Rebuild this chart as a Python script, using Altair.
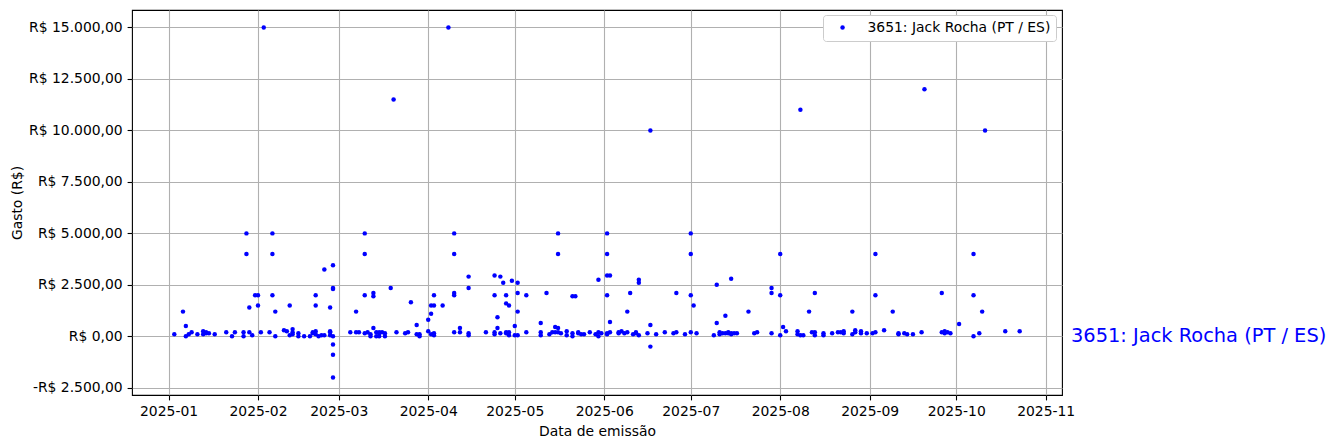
import altair as alt
import pandas as pd

SERIES = "3651: Jack Rocha (PT / ES)"

dates = [
    # Jan
    "2025-01-03", "2025-01-06", "2025-01-07", "2025-01-07", "2025-01-08", "2025-01-09", "2025-01-11",
    "2025-01-13", "2025-01-13", "2025-01-14", "2025-01-14", "2025-01-15", "2025-01-17", "2025-01-21",
    "2025-01-23", "2025-01-24", "2025-01-27", "2025-01-27", "2025-01-28", "2025-01-28", "2025-01-29",
    "2025-01-29", "2025-01-30", "2025-01-31",
    # Feb
    "2025-02-01", "2025-02-01", "2025-02-02", "2025-02-03", "2025-02-05", "2025-02-06", "2025-02-06",
    "2025-02-06", "2025-02-07", "2025-02-07", "2025-02-10", "2025-02-11", "2025-02-12", "2025-02-12",
    "2025-02-13", "2025-02-13", "2025-02-13", "2025-02-15", "2025-02-15", "2025-02-17", "2025-02-19",
    "2025-02-20", "2025-02-21", "2025-02-20", "2025-02-21", "2025-02-21", "2025-02-21", "2025-02-22",
    "2025-02-23", "2025-02-24", "2025-02-26", "2025-02-24", "2025-02-26", "2025-02-26", "2025-02-26",
    "2025-02-27", "2025-02-27", "2025-02-27", "2025-02-27", "2025-02-27", "2025-02-27", "2025-02-27",
    # Mar
    "2025-03-05", "2025-03-07", "2025-03-07", "2025-03-08", "2025-03-10", "2025-03-10", "2025-03-10",
    "2025-03-10", "2025-03-11", "2025-03-12", "2025-03-12", "2025-03-13", "2025-03-13", "2025-03-13",
    "2025-03-14", "2025-03-14", "2025-03-15", "2025-03-15", "2025-03-15", "2025-03-16", "2025-03-17",
    "2025-03-17", "2025-03-19", "2025-03-20", "2025-03-21", "2025-03-24", "2025-03-25", "2025-03-26",
    "2025-03-28", "2025-03-28", "2025-03-29", "2025-03-29",
    # Apr
    "2025-04-01", "2025-04-01", "2025-04-02", "2025-04-02", "2025-04-03", "2025-04-03", "2025-04-02",
    "2025-04-03", "2025-04-03", "2025-04-06", "2025-04-08", "2025-04-10", "2025-04-10", "2025-04-10",
    "2025-04-10", "2025-04-10", "2025-04-12", "2025-04-12", "2025-04-15", "2025-04-15", "2025-04-15",
    "2025-04-15", "2025-04-21", "2025-04-24", "2025-04-24", "2025-04-24", "2025-04-24", "2025-04-25",
    "2025-04-25", "2025-04-26", "2025-04-26", "2025-04-27", "2025-04-28", "2025-04-28", "2025-04-28",
    "2025-04-28", "2025-04-29", "2025-04-29", "2025-04-29", "2025-04-30",
    # May
    "2025-05-01", "2025-05-01", "2025-05-02", "2025-05-02", "2025-05-02", "2025-05-02", "2025-05-05",
    "2025-05-05", "2025-05-10", "2025-05-10", "2025-05-10", "2025-05-12", "2025-05-13", "2025-05-14",
    "2025-05-15", "2025-05-16", "2025-05-16", "2025-05-16", "2025-05-15", "2025-05-16", "2025-05-17",
    "2025-05-19", "2025-05-19", "2025-05-21", "2025-05-21", "2025-05-21", "2025-05-22", "2025-05-23",
    "2025-05-23", "2025-05-24", "2025-05-25", "2025-05-27", "2025-05-29", "2025-05-30", "2025-05-30",
    "2025-05-31", "2025-05-30",
    # Jun
    "2025-06-02", "2025-06-02", "2025-06-02", "2025-06-02", "2025-06-02", "2025-06-03", "2025-06-02",
    "2025-06-03", "2025-06-03", "2025-06-06", "2025-06-06", "2025-06-07", "2025-06-08", "2025-06-09",
    "2025-06-10", "2025-06-09", "2025-06-11", "2025-06-12", "2025-06-12", "2025-06-13", "2025-06-13",
    "2025-06-13", "2025-06-16", "2025-06-17", "2025-06-17", "2025-06-17", "2025-06-19", "2025-06-22",
    "2025-06-26", "2025-06-26", "2025-06-25", "2025-06-29",
    # Jul
    "2025-07-01", "2025-07-01", "2025-07-01", "2025-07-01", "2025-07-03", "2025-07-02", "2025-07-09",
    "2025-07-10", "2025-07-10", "2025-07-11", "2025-07-11", "2025-07-12", "2025-07-13", "2025-07-13",
    "2025-07-14", "2025-07-14", "2025-07-15", "2025-07-15", "2025-07-15", "2025-07-16", "2025-07-17",
    "2025-07-21", "2025-07-23", "2025-07-24", "2025-07-29", "2025-07-29", "2025-07-29",
    # Aug
    "2025-08-01", "2025-08-01", "2025-08-01", "2025-08-02", "2025-08-03", "2025-08-07", "2025-08-07",
    "2025-08-08", "2025-08-09", "2025-08-08", "2025-08-11", "2025-08-13", "2025-08-12", "2025-08-13",
    "2025-08-13", "2025-08-16", "2025-08-16", "2025-08-19", "2025-08-21", "2025-08-22", "2025-08-23",
    "2025-08-23", "2025-08-26", "2025-08-26", "2025-08-27", "2025-08-27", "2025-08-29", "2025-08-29",
    "2025-08-31",
    # Sep
    "2025-09-03", "2025-09-03", "2025-09-02", "2025-09-03", "2025-09-06", "2025-09-09", "2025-09-11",
    "2025-09-11", "2025-09-13", "2025-09-14", "2025-09-16", "2025-09-19", "2025-09-20", "2025-09-26",
    "2025-09-26", "2025-09-27", "2025-09-27", "2025-09-28", "2025-09-29",
    # Oct
    "2025-10-02", "2025-10-07", "2025-10-07", "2025-10-07", "2025-10-09", "2025-10-10", "2025-10-11",
    "2025-10-18", "2025-10-23",
]

values = [
    # Jan
    100, 1200, 500, 0, 100, 200, 100,
    250, 100, 200, 150, 150, 100, 200,
    0, 200, 0, 200, 5000, 4000, 1400,
    200, 50, 2000,
    # Feb
    2000, 1500, 200, 15000, 200, 5000, 4000,
    2000, 1200, 0, 300, 250, 1500, 50,
    350, 200, 100, 150, 0, 0, 0,
    200, 250, 150, 100, 2000, 1500, 0,
    50, 50, 50, 3250, 1400, 200, 250,
    3450, 2350, 2300, 0, -400, -900, -2000,
    # Mar
    200, 200, 1200, 200, 5000, 4000, 2000,
    150, 200, 100, 0, 400, 2100, 1950,
    200, 0, 150, 0, 200, 200, 150,
    0, 2350, 11500, 200, 150, 200, 1650,
    550, 100, 100, 0,
    # Apr
    800, 250, 1100, 1500, 1500, 2000, 100,
    50, 150, 1500, 15000, 5000, 4000, 2100,
    2000, 200, 400, 200, 2900, 2350, 150,
    50, 200, 2950, 2000, 100, 200, 930,
    400, 150, 2900, 2600, 2000, 1600, 200,
    150, 1500, 200, 50, 2700,
    # May
    500, 50, 2600, 2100, 1200, 50, 2000,
    200, 650, 50, 200, 2100, 100, 200,
    450, 400, 5000, 4000, 200, 200, 150,
    250, 50, 150, 0, 1950, 1950, 200,
    150, 100, 100, 200, 100, 200, 0,
    150, 2750,
    # Jun
    5000, 4000, 2000, 100, 150, 200, 2950,
    2950, 700, 200, 150, 250, 150, 1200,
    2100, 200, 100, 150, 200, 2750, 2600,
    50, 150, 10000, 550, -500, 100, 200,
    2100, 200, 150, 100,
    # Jul
    5000, 4000, 2000, 200, 150, 1500, 50,
    2500, 650, 200, 100, 150, 150, 1000,
    150, 200, 100, 2800, 150, 150, 150,
    1200, 150, 200, 2100, 2350, 150,
    # Aug
    4000, 2000, 50, 450, 250, 250, 100,
    50, 50, 11000, 1200, 2100, 200, 200,
    50, 50, 150, 150, 200, 200, 250,
    150, 1200, 100, 200, 300, 250, 150,
    150,
    # Sep
    4000, 2000, 150, 200, 300, 1200, 150,
    100, 150, 100, 100, 200, 12000, 2100,
    200, 250, 150, 200, 150,
    # Oct
    600, 4000, 2000, 0, 150, 1200, 10000,
    250, 250,
]

y_ticks = [-2500, 0, 2500, 5000, 7500, 10000, 12500, 15000]
x_tick_months = [(2025, m) for m in range(1, 12)]

df = pd.DataFrame({"date": dates, "gasto": values, "serie": SERIES})
label_df = pd.DataFrame({"gasto": [0], "texto": [SERIES]})

FONT = "DejaVu Sans"
W, H = 930, 385

x_ticks = [alt.DateTime(year=y, month=m, date=1, utc=True) for y, m in x_tick_months]

y_label_expr = (
    "(datum.value < 0 ? '-' : '') + 'R$ ' + "
    "replace(replace(replace(format(abs(datum.value), ',.2f'), ',', '_'), '.', ','), '_', '.')"
)
x_label_expr = "utcFormat(datum.value, '%Y-%m')"

x_enc = alt.X(
    "date:T",
    title="Data de emissão",
    scale=alt.Scale(
        type="utc",
        domain=[
            alt.DateTime(year=2024, month=12, date=19, hours=8, utc=True),
            alt.DateTime(year=2025, month=11, date=6, hours=16, utc=True),
        ],
        nice=False,
    ),
    axis=alt.Axis(values=x_ticks, labelExpr=x_label_expr, titlePadding=6),
)

y_enc = alt.Y(
    "gasto:Q",
    title="Gasto (R$)",
    scale=alt.Scale(domain=[-2850, 15850], nice=False, zero=False),
    axis=alt.Axis(values=y_ticks, labelExpr=y_label_expr, titlePadding=4),
)

points = alt.Chart(df).mark_point(filled=True, size=20, opacity=1).encode(
    x=x_enc,
    y=y_enc,
    color=alt.Color(
        "serie:N",
        scale=alt.Scale(range=["blue"]),
        legend=alt.Legend(
            title=None,
            orient="none",
            legendX=691,
            legendY=5,
            padding=5.6,
            strokeColor="#cccccc",
            fillColor="white",
            cornerRadius=3,
            labelFont=FONT,
            labelFontSize=13.9,
            labelColor="black",
            labelLimit=400,
            symbolType="circle",
            symbolSize=20,
            symbolOffset=7,
            labelOffset=18,
            zindex=2,
        ),
    ),
)

text = alt.Chart(label_df).mark_text(
    align="left", baseline="middle", fontSize=19.4, color="blue", font=FONT
).encode(
    x=alt.value(W + 9),
    y=y_enc,
    text="texto:N",
)

chart = (
    alt.layer(points, text)
    .properties(
        width=W,
        height=H,
        padding={"left": 124, "top": 2, "right": 266, "bottom": 50},
        autosize=alt.AutoSizeParams(type="none"),
    )
    .configure_view(stroke="black", strokeWidth=1.1)
    .configure_axis(
        labelFont=FONT,
        titleFont=FONT,
        labelFontSize=13.9,
        titleFontSize=13.9,
        labelColor="black",
        titleColor="black",
        titleFontWeight="normal",
        gridColor="#b0b0b0",
        gridWidth=1.1,
        tickColor="black",
        tickSize=4.9,
        tickWidth=1.1,
        domain=False,
        labelPadding=4.9,
        zindex=1,
    )
)

chart.save("out.html", embed_options={"renderer": "svg", "actions": False})
